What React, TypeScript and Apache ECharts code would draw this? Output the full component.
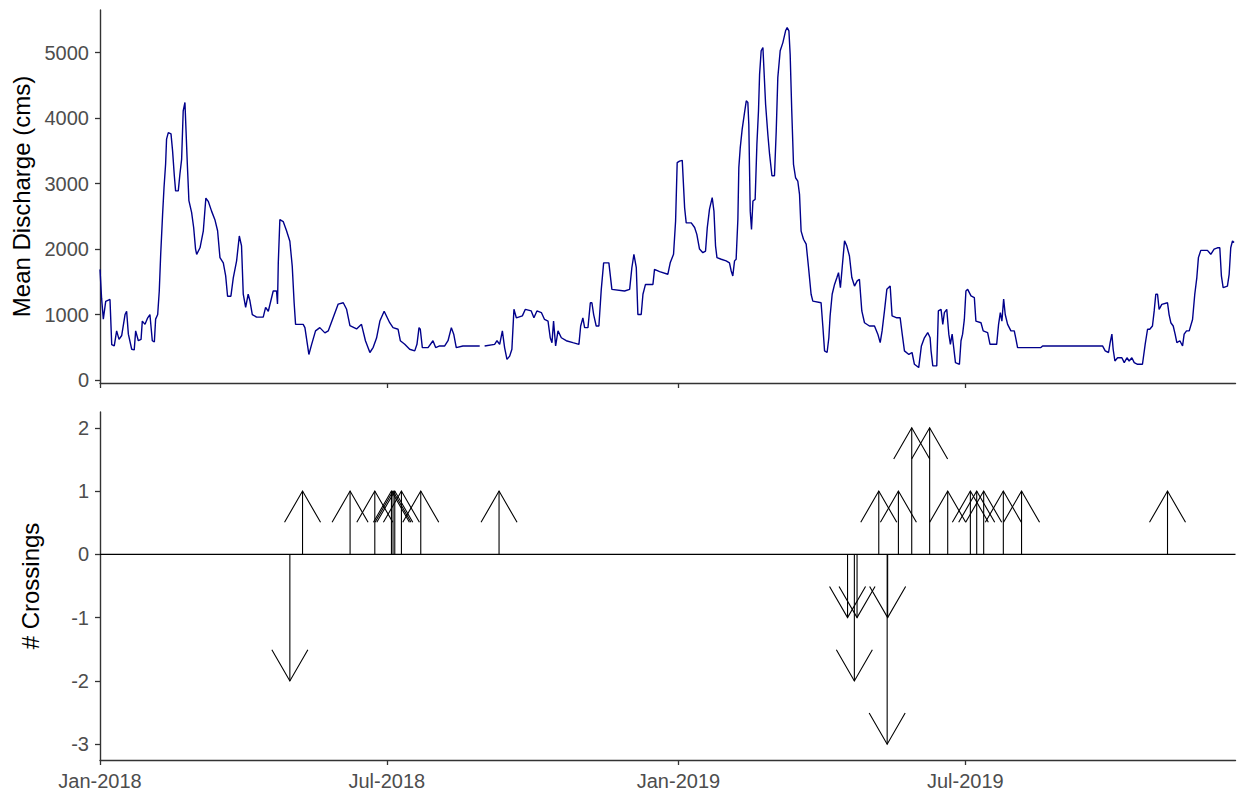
import React, { useEffect, useRef } from "react";
import * as echarts from "echarts";

// Days since 2018-01-01 and mean discharge (cms)
const flowDay = [
  0, 1, 2.1, 3.6, 6.3, 7.4, 9, 10.5, 12, 13.7, 15.8, 16.8, 17.9, 20, 21.6, 22.5, 24.2, 25.9, 26.7, 28.4,
  30.1, 31.5, 33, 34.3, 35.1, 36.4, 37.4, 38.3, 39.5, 40.4, 41.4, 42, 43.1, 44.8, 45.8, 46.9, 47.7, 49.4, 50.4, 51.5,
  52.5, 53.6, 55.1, 56.1, 57.8, 59.1, 60.3, 61, 63.1, 65.2, 66.8, 68.3, 70.4, 72.5, 74.2, 75.7, 77.8, 79.3, 80.5, 82.6,
  84.1, 86.2, 87.9, 89.3, 90.4, 91.9, 93.5, 94.6, 96.1, 98.8, 103, 104.5, 106.2, 109.3, 111.4, 112, 112.5, 113.5, 115.6, 117.7,
  119.8, 121.3, 122.5, 123.4, 128.2, 129.3, 131.8, 133.5, 136, 138.7, 141.9, 144, 147.1, 150.3, 153.5, 155.6, 157.7, 161.9, 165, 167.5,
  170.3, 172.4, 174.5, 176.6, 179.3, 182.8, 184.9, 188.1, 189.5, 192.3, 195.4, 198.6, 200, 201.3, 202.1, 203.4, 207, 210.1, 211.8, 214.3,
  217.5, 219.6, 221.7, 223.2, 224.8, 229, 239.6, 241, 242.7, 249, 250.5, 252.2, 253.9, 255.3, 256.8, 258.5, 259.9, 260.6, 261.2, 262.7,
  266.5, 268.4, 272.1, 273.8, 275.7, 278.5, 280.5, 282.7, 284.1, 285.2, 286.2, 287.5, 289, 291.1, 294.2, 298.4, 302.2, 303.3, 304.7, 305.8,
  307.9, 309.4, 310.4, 311.5, 313.1, 314.8, 316.3, 317.8, 321.1, 323, 331, 334.2, 335.6, 336.9, 338.4, 339.4, 341.5, 342.6, 344.2, 348.9,
  349.9, 353.1, 358.3, 359.8, 361.9, 363.2, 364.2, 365.7, 367.4, 368.9, 369.9, 373.1, 375.2, 376.6, 378.3, 380.4, 382.1, 383.2, 384.6, 386.3,
  387.4, 388.4, 389.3, 392, 395.1, 397.2, 398.3, 399.3, 400.4, 401.4, 402.5, 403.1, 404, 405.2, 406.7, 407.8, 408.8, 409.4, 410.3, 411.1,
  412, 413.4, 414.5, 415.5, 416.2, 417.2, 418.3, 418.9, 420, 421.4, 422.5, 424, 425.6, 426.7, 427.7, 429.2, 430.9, 432.6, 433.6, 434.7,
  435.5, 436.5, 437.6, 438.9, 440.3, 441.4, 442.4, 443.9, 445.6, 447.1, 448.7, 449.8, 455, 456.1, 457.2, 458.8, 459.9, 460.7, 462, 463.5,
  465, 466, 467.2, 468.3, 469.8, 471.2, 472.9, 474.4, 476.1, 477.8, 479.2, 480.7, 482.4, 485.5, 488.7, 490.8, 492.3, 493.5, 495, 496.5,
  498.6, 499.8, 502.8, 504.9, 506.2, 507.6, 510.4, 512.4, 513.9, 516.6, 518.3, 520.2, 522.3, 523.8, 524.4, 525.5, 528, 529, 530.7, 531.8,
  532.8, 534.3, 535.6, 536.6, 537.7, 538.7, 539.8, 542.3, 543.3, 544.3, 545.4, 546.4, 547.5, 549.6, 551.7, 552.7, 555.9, 557.3, 560.1, 561.6,
  565.8, 567, 568.1, 569.1, 570.2, 571.2, 572.7, 574.8, 576.9, 578, 579, 593.7, 594.8, 632.6, 634.3, 636.4, 637.4, 638.5, 639.3, 640.4,
  642.1, 644.8, 646.3, 648, 649.4, 651.1, 652.6, 654.7, 657.8, 659.5, 661, 662.4, 664.1, 665.2, 666.2, 667.3, 668.3, 670, 673.6, 674.6,
  675.7, 677.2, 678.4, 679.5, 681.4, 683.1, 684.1, 685.6, 687.3, 689.4, 690.8, 692.1, 693.1, 694.6, 698.8, 700.9, 703, 705.1, 706.6, 707.6,
  708.7, 711.4, 712.5, 713.5, 714.6, 715.6,
];
const flowCms: (number | null)[] = [
  1690, 1250, 930, 1200, 1230, 540, 520, 750, 620, 680, 1000, 1050, 700, 470, 460, 750, 600, 620, 900, 850,
  950, 1000, 600, 580, 930, 1000, 1360, 1920, 2530, 2940, 3300, 3680, 3780, 3760, 3500, 3120, 2890, 2890, 3140, 3370,
  4110, 4240, 3300, 2740, 2560, 2330, 2000, 1920, 2020, 2280, 2780, 2730, 2580, 2450, 2280, 1870, 1790, 1590, 1280, 1280,
  1560, 1820, 2200, 2050, 1310, 1110, 1310, 1210, 1000, 960, 960, 1110, 1050, 1360, 1360, 1160, 1790, 2450, 2420, 2280,
  2120, 1740, 1180, 850, 850, 800, 390, 540, 750, 800, 720, 750, 950, 1160, 1180, 1080, 830, 780, 850, 600,
  420, 500, 640, 900, 1050, 875, 800, 775, 600, 545, 470, 445, 545, 800, 775, 495, 495, 600, 495, 520,
  520, 600, 800, 700, 495, 520, 520, null, 520, 545, 600, 545, 750, 495, 315, 365, 470, 800, 1080, 950,
  980, 1080, 1055, 950, 1055, 1030, 925, 900, 645, 570, 900, 520, 750, 645, 600, 570, 545, 825, 950, 800,
  800, 1180, 1180, 1000, 825, 825, 1385, 1790, 1790, 1385, 1360, 1385, 1715, 1920, 1715, 1000, 1000, 1310, 1460, 1460,
  1690, 1655, 1615, 1790, 1920, 2430, 3320, 3345, 3355, 2630, 2400, 2400, 2330, 2225, 2000, 1945, 1970, 2330, 2610, 2785,
  2580, 2050, 1870, 1845, 1820, 1790, 1665, 1590, 1820, 1845, 2455, 3245, 3550, 3830, 4085, 4265, 4240, 3905, 2580, 2300,
  2735, 2760, 3600, 4110, 4670, 5030, 5080, 4770, 4210, 3755, 3450, 3120, 3120, 3805, 4620, 5030, 5155, 5335, 5385, 5335,
  4970, 4110, 3295, 3090, 3040, 2835, 2275, 2150, 2075, 1715, 1310, 1205, 1180, 825, 445, 420, 645, 980, 1310, 1460,
  1565, 1640, 1410, 1715, 2125, 2050, 1895, 1565, 1435, 1515, 1540, 1055, 875, 825, 825, 700, 570, 750, 1055, 1385,
  1435, 980, 950, 950, 700, 445, 390, 420, 240, 190, 520, 645, 725, 645, 445, 215, 215, 1055, 1080, 850,
  1030, 1080, 700, 545, 700, 495, 265, 240, 600, 700, 925, 1360, 1385, 1285, 1260, 900, 875, 750, 725, 545,
  545, 850, 1030, 900, 1235, 1000, 850, 750, 750, 620, 495, 495, 520, 520, 445, 420, 570, 700, 470, 290,
  340, 340, 265, 340, 290, 340, 265, 240, 240, 545, 775, 775, 825, 1055, 1310, 1310, 1080, 1155, 1180, 1000,
  875, 825, 700, 570, 600, 520, 700, 750, 750, 925, 1310, 1565, 1870, 1980, 1980, 1920, 2000, 2020, 2020, 1590,
  1410, 1435, 1615, 2020, 2125, 2100,
];

// Crossing events: day since 2018-01-01 and number of crossings
const crossDay = [
  119.8, 127.8, 157.8, 173.4, 183.9, 184.9, 186.0, 190.2, 202.4, 251.8,
  471.7, 476.0, 477.7, 491.4, 496.7, 497.0, 503.8, 512.2, 523.5, 534.9,
  549.2, 553.2, 557.6, 570.0, 581.5, 673.6,
];
const crossCount = [
  -2, 1, 1, 1, 1, 1, 1, 1, 1, 1,
  -1, -2, -1, 1, -3, -1, 1, 2, 2, 1,
  1, 1, 1, 1, 1, 1,
];

const xTickDays = [0, 181, 365, 546];
const xTickLabels = ["Jan-2018", "Jul-2018", "Jan-2019", "Jul-2019"];
const flowTicks = [0, 1000, 2000, 3000, 4000, 5000];
const crossTicks = [-3, -2, -1, 0, 1, 2];

const X_MAX = 716.5;
const FONT = "'Liberation Sans', Arial, sans-serif";

export default function App() {
  const ref = useRef<HTMLDivElement>(null);

  useEffect(() => {
    if (!ref.current) return;
    const chart = echarts.init(ref.current, undefined, { renderer: "svg" });

    const axisLine = { show: true, onZero: false, lineStyle: { color: "#333", width: 1.4 } };
    const tickStyle = { color: "#333", width: 1.3 };
    const labelBase = { fontSize: 20, color: "#4D4D4D", fontFamily: FONT, margin: 11 };
    const nameStyle = { fontSize: 24, color: "#000", fontFamily: FONT };

    const flowData = flowDay.map((d, i) => [d, flowCms[i] === null ? "-" : flowCms[i]]);
    const crossData = crossDay.map((d, i) => [d, crossCount[i]]);

    const option: any = {
      animation: false,
      textStyle: { fontFamily: FONT },
      grid: [
        { left: 100, right: 2.5, top: 10, height: 373 },
        { left: 100, right: 2.5, top: 412, height: 348 },
      ],
      xAxis: [
        {
          gridIndex: 0, type: "value", min: 0, max: X_MAX,
          axisLine,
          axisTick: { show: true, length: 5, customValues: xTickDays, lineStyle: tickStyle },
          axisLabel: { show: false, customValues: xTickDays },
          splitLine: { show: false },
        },
        {
          gridIndex: 1, type: "value", min: 0, max: X_MAX,
          axisLine,
          axisTick: { show: true, length: 5, customValues: xTickDays, lineStyle: tickStyle },
          axisLabel: {
            ...labelBase,
            customValues: xTickDays,
            formatter: (v: number) => {
              const i = xTickDays.indexOf(v);
              return i >= 0 ? xTickLabels[i] : "";
            },
          },
          splitLine: { show: false },
        },
      ],
      yAxis: [
        {
          gridIndex: 0, type: "value", min: -46, max: 5653,
          name: "Mean Discharge (cms)", nameLocation: "middle", nameRotate: 90, nameGap: 58,
          nameTextStyle: nameStyle,
          axisLine,
          axisTick: { show: true, length: 5, customValues: flowTicks, lineStyle: tickStyle },
          axisLabel: { ...labelBase, customValues: flowTicks, formatter: (v: number) => String(v) },
          splitLine: { show: false },
        },
        {
          gridIndex: 1, type: "value", min: -3.25, max: 2.25,
          name: "# Crossings", nameLocation: "middle", nameRotate: 90, nameGap: 58,
          nameTextStyle: nameStyle,
          axisLine,
          axisTick: { show: true, length: 5, customValues: crossTicks, lineStyle: tickStyle },
          axisLabel: { ...labelBase, customValues: crossTicks, formatter: (v: number) => String(v) },
          splitLine: { show: false },
        },
      ],
      series: [
        {
          type: "line", xAxisIndex: 0, yAxisIndex: 0, data: flowData,
          showSymbol: false, symbol: "none", connectNulls: false,
          lineStyle: { color: "#00008B", width: 1.4 },
          silent: true,
        },
        {
          type: "line", xAxisIndex: 1, yAxisIndex: 1,
          data: [[0, 0], [X_MAX, 0]],
          symbol: "none", silent: true,
          lineStyle: { color: "#000", width: 1.4 },
        },
        {
          type: "custom", xAxisIndex: 1, yAxisIndex: 1, data: crossData,
          encode: { x: 0, y: 1 }, silent: true,
          renderItem: (params: any, api: any) => {
            const x = api.value(0);
            const v = api.value(1);
            const p0 = api.coord([x, 0]);
            const p1 = api.coord([x, v]);
            const dir = v > 0 ? -1 : 1;
            const L = 36;
            const ang = Math.PI / 6;
            const dx = L * Math.sin(ang);
            const dy = L * Math.cos(ang);
            const ay = p1[1] - dir * dy;
            return {
              type: "group",
              children: [
                {
                  type: "line",
                  shape: { x1: p0[0], y1: p0[1], x2: p1[0], y2: p1[1] },
                  style: { stroke: "#000", lineWidth: 1.1 },
                },
                {
                  type: "polyline",
                  shape: { points: [[p1[0] - dx, ay], [p1[0], p1[1]], [p1[0] + dx, ay]] },
                  style: { stroke: "#000", fill: null, lineWidth: 1.1 },
                },
              ],
            };
          },
        },
      ],
    };

    chart.setOption(option);
    return () => chart.dispose();
  }, []);

  return (
    <div
      ref={ref}
      style={{ position: "fixed", left: 0, top: 0, width: 1238, height: 796, background: "#fff" }}
    />
  );
}
